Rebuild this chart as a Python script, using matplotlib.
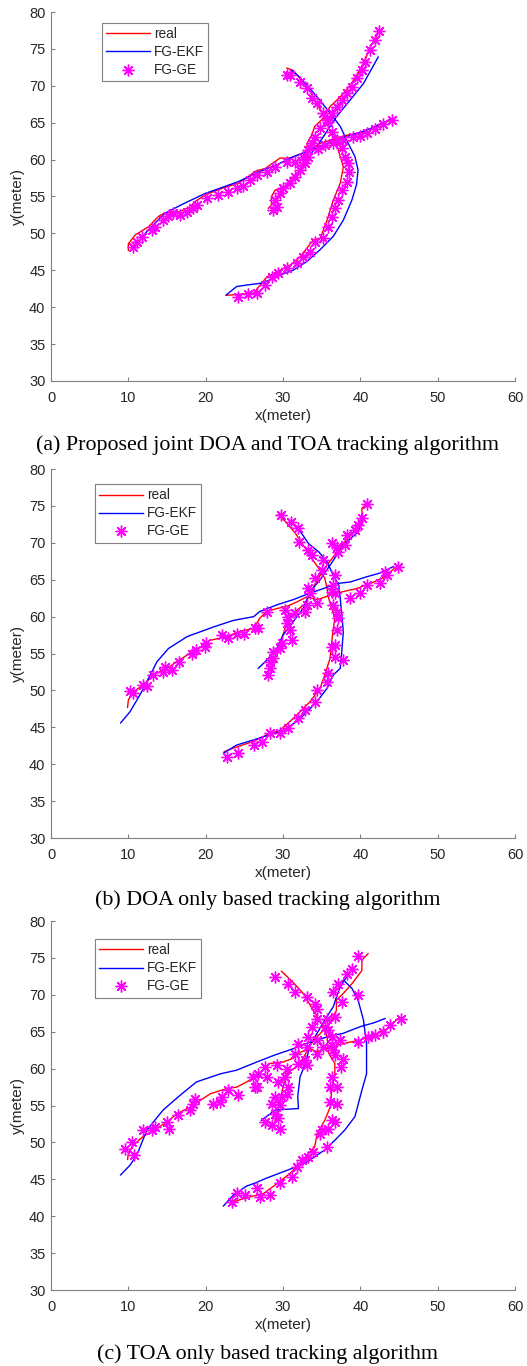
import numpy as np
import matplotlib
matplotlib.use("Agg")
import matplotlib.pyplot as plt

nan = np.nan
plt.rcParams['font.family'] = ['Liberation Sans', 'DejaVu Sans']

# ---------------- (a) joint DOA + TOA ----------------
a_real_x = [10.0, 10.0, 10.9, 12.6, 13.9, 14.7, 16.5, 18.0, 18.6, 19.9, 22.1, 24.2, 25.5, 26.4, 27.7, 29.6, 30.9, 33.1, 34.8, 36.9, 38.2, 40.0, 41.3, 43.0, 44.1, nan,
            22.6, 26.2, 27.9, 29.2, 30.9, 32.2, 33.9, 34.8, 35.7, 36.5, 37.4, 37.8, 37.4, 36.9, 36.1, 35.4, 34.6, 33.5, 32.2, 31.3, 30.5, nan,
            28.1, 28.5, 28.5, 29.0, 30.0, 30.9, 32.0, 32.6, 33.1, 33.1, 33.7, 34.1, 35.0, 36.1, 37.4, 38.7, 39.7, 40.6, 41.3, 42.1, 42.5]
a_real_y = [47.7, 48.6, 49.8, 50.9, 52.3, 52.8, 52.9, 53.6, 54.3, 55.2, 56.1, 56.8, 57.7, 58.4, 58.8, 60.2, 60.2, 61.1, 62.2, 62.9, 63.3, 63.6, 64.2, 64.9, 65.4, nan,
            41.6, 41.9, 44.1, 44.8, 45.7, 46.8, 49.1, 49.3, 51.8, 54.5, 56.8, 59.0, 60.4, 62.2, 63.8, 65.8, 67.2, 69.2, 71.0, 72.1, 72.4, nan,
            53.4, 53.8, 55.0, 55.9, 56.1, 57.2, 58.4, 59.5, 60.9, 62.2, 63.3, 64.5, 65.4, 67.2, 68.5, 70.1, 71.7, 73.5, 75.3, 76.7, 77.6]
a_ekf_x = [10.5, 12.6, 14.7, 16.9, 19.9, 24.2, 26.8, 29.2, 30.9, 33.1, 35.7, 38.2, 39.7, 41.3, 43.8, nan,
           22.7, 24.0, 25.3, 27.5, 29.2, 31.3, 33.1, 34.8, 36.5, 37.8, 38.9, 39.5, 39.7, 39.3, 38.2, 37.4, 36.1, 34.4, 33.1, 31.8, 31.1, nan,
           33.6, 34.4, 36.9, 38.7, 40.4, 42.3]
a_ekf_y = [47.9, 50.5, 52.7, 53.9, 55.4, 57.0, 58.3, 59.3, 60.2, 61.1, 62.2, 63.1, 63.6, 64.2, 65.4, nan,
           41.7, 42.8, 43.0, 43.3, 44.2, 45.0, 46.2, 47.8, 49.6, 51.8, 54.5, 56.6, 58.6, 60.4, 62.7, 64.5, 66.3, 68.5, 70.1, 71.5, 72.1, nan,
           60.8, 61.8, 65.8, 68.1, 70.3, 73.9]
a_ge_x = [10.65, 11.08, 11.72, 13.02, 13.45, 14.52, 15.17, 15.82, 16.68, 17.55, 18.4, 18.84, 20.13, 21.64, 22.93, 24.01, 24.87, 25.73, 26.6, 27.89,
          28.97, 30.48, 31.55, 32.63, 34.57, 35.43, 36.5, 37.8, 39.09, 39.96, 40.82, 41.9, 42.97, 44.06,
          24.23, 25.52, 26.6, 27.67, 28.54, 29.4, 30.48, 31.77, 32.63, 33.49, 34.14, 35.21, 35.86, 36.3, 36.73, 37.16, 37.59, 38.24, 38.58, 38.45,
          38.02, 37.59, 36.95, 36.3, 35.86, 35.21, 34.36, 33.71, 33.07, 32.2, 30.9, 30.48,
          28.75, 29.19, 28.97, 29.61, 30.04, 30.91, 31.55, 32.2, 32.85, 33.27, 33.27, 33.71, 34.14, 34.79, 35.65, 36.3, 36.95, 37.59, 38.24, 38.88,
          39.53, 40.18, 40.6, 41.25, 41.9, 42.46]
a_ge_y = [48.2, 48.9, 49.55, 50.46, 50.9, 51.8, 52.36, 52.72, 52.5, 52.95, 53.4, 53.85, 54.75, 55.2, 55.65, 56.1, 56.4, 57.2, 57.9, 58.36,
          59.0, 59.7, 59.7, 60.4, 61.4, 62.0, 62.2, 62.65, 63.0, 63.2, 63.65, 64.2, 64.8, 65.3,
          41.42, 41.79, 41.88, 43.0, 44.13, 44.59, 45.27, 45.95, 46.84, 47.52, 48.88, 49.34, 50.92, 52.27, 53.4, 54.53, 55.88, 57.0, 58.36, 59.5,
          60.4, 61.53, 62.65, 63.78, 65.14, 66.27, 67.63, 68.31, 69.66, 70.56, 71.46, 71.46,
          53.17, 53.62, 54.53, 55.43, 56.1, 56.79, 57.68, 58.59, 59.5, 60.4, 61.3, 62.2, 63.1, 64.24, 65.37, 66.27, 67.17, 68.08, 68.98, 69.88,
          71.0, 72.14, 73.27, 74.85, 76.2, 77.43]

# ---------------- (b) DOA only ----------------
b_real_x = [9.9, 10.0, 10.6, 11.9, 13.2, 15.0, 16.3, 17.6, 19.3, 20.6, 22.7, 24.4, 26.2, 27.0, 27.9, 29.2, 30.5, 31.8, 33.1, 34.4, 36.1, 37.8, 39.5, 41.3, 42.8, 44.5, nan,
            22.4, 23.6, 26.2, 27.9, 29.6, 30.9, 32.2, 33.5, 34.8, 35.4, 36.1, 36.3, 36.5, 36.7, 36.3, 35.9, 35.7, 35.4, 34.8, 33.7, 32.6, 31.6, 30.3, 29.4, nan,
            28.5, 28.8, 29.6, 30.0, 30.5, 31.6, 32.9, 33.7, 34.8, 35.7, 37.0, 38.0, 39.3, 40.2, 40.2, 40.8]
b_real_y = [47.7, 48.7, 49.8, 50.7, 52.1, 53.0, 53.9, 54.8, 55.9, 56.8, 57.3, 58.0, 58.4, 59.8, 60.7, 61.1, 61.4, 62.0, 62.7, 62.3, 62.9, 63.4, 63.8, 64.5, 65.2, 66.6, nan,
            41.7, 42.2, 43.1, 44.0, 44.6, 45.8, 47.1, 48.5, 50.3, 52.1, 54.4, 56.6, 58.4, 59.8, 61.1, 62.5, 63.8, 65.2, 66.3, 67.9, 69.7, 71.3, 72.9, 73.8, nan,
            53.5, 53.9, 55.7, 57.5, 59.3, 60.7, 61.8, 63.6, 65.6, 67.0, 68.8, 70.2, 71.7, 73.5, 74.7, 75.2]
b_ekf_x = [9.0, 10.2, 11.5, 12.4, 13.7, 15.2, 17.6, 21.0, 23.6, 26.2, 27.0, 29.2, 31.3, 33.5, 35.2, 37.0, 38.7, 40.8, 42.5, 44.3, nan,
           22.3, 24.0, 26.2, 28.3, 30.0, 31.8, 33.1, 34.4, 35.7, 36.5, 37.4, 37.6, 37.8, 37.6, 37.4, 37.2, 36.5, 35.7, 34.6, 33.3, 32.4, 31.3, nan,
           26.8, 27.9, 29.2, 30.0, 31.3, 32.6, 33.5, 34.8, 36.1, 37.8, 39.7, 40.3]
b_ekf_y = [45.6, 47.1, 49.4, 51.2, 53.9, 55.7, 57.3, 58.6, 59.5, 60.0, 60.7, 61.6, 62.3, 63.2, 63.8, 64.5, 64.7, 65.4, 65.9, 66.8, nan,
           41.5, 42.6, 43.3, 44.0, 44.6, 45.8, 47.1, 48.5, 50.3, 52.1, 53.0, 55.3, 58.0, 60.2, 62.5, 64.3, 65.6, 67.4, 68.8, 69.9, 71.3, 72.6, nan,
           53.0, 54.1, 55.7, 57.5, 59.3, 61.1, 63.4, 65.0, 67.0, 69.7, 71.5, 72.9]
b_ge_x = [10.2, 10.6, 11.9, 12.4, 13.2, 14.5, 14.7, 15.6, 16.5, 18.2, 18.8, 19.9, 20.1, 22.1, 22.9, 24.0, 24.9, 26.4, 22.7, 24.2, 26.2,
          29.74, 31.04, 31.98, 32.11, 33.27, 33.79, 35.21, 35.0, 34.14, 33.27, 33.49, 34.36, 33.06, 32.85, 31.55, 30.26, 30.69, 30.48, 30.91, 31.12,
          29.83, 29.61, 28.75, 28.75, 28.32, 28.32, 28.1, 27.89, 26.81, 36.3, 36.94, 37.16, 38.02, 38.24, 39.31, 39.74, 40.17, 40.82, 36.73, 36.51,
          36.3, 36.73, 36.51, 36.94, 37.16, 36.94, 36.73, 36.3, 36.73, 37.8, 35.86, 35.65, 34.36, 34.14, 32.85, 31.98, 30.69, 29.61, 28.32, 27.24,
          38.67, 39.96, 40.82, 42.54, 43.19, 43.41, 44.91]
b_ge_y = [49.9, 49.7, 50.7, 50.6, 52.1, 52.5, 53.2, 52.8, 53.9, 55.0, 55.5, 55.9, 56.4, 57.5, 57.1, 57.7, 57.6, 58.4, 41.0, 41.5, 42.6,
          73.77, 72.86, 71.96, 70.15, 69.02, 68.35, 67.67, 66.31, 65.19, 63.83, 63.15, 61.8, 61.57, 60.66, 60.44, 60.9, 59.99, 59.09, 58.18, 56.83,
          56.38, 55.7, 55.25, 54.35, 53.89, 52.99, 52.09, 60.66, 58.41, 69.93, 69.47, 68.8, 69.7, 71.06, 71.73, 72.41, 73.32, 75.21, 65.64, 64.28,
          63.38, 63.15, 61.57, 60.66, 59.77, 58.18, 56.15, 55.92, 54.57, 54.12, 52.31, 51.18, 50.05, 48.47, 47.34, 46.22, 44.86, 44.19, 44.19, 43.05,
          62.48, 63.15, 64.28, 64.51, 66.09, 65.64, 66.77]

# ---------------- (c) TOA only ----------------
c_real_x = [9.9, 10.0, 10.6, 11.9, 13.7, 15.0, 16.3, 18.0, 19.3, 20.6, 22.7, 24.0, 25.3, 26.6, 28.3, 30.0, 31.3, 32.4, 33.5, 34.4, 36.1, 37.8, 40.0, 41.7, 43.4, 44.9, nan,
            23.2, 24.9, 27.5, 29.2, 30.9, 32.2, 34.1, 34.4, 35.4, 36.1, 36.3, 36.7, 36.7, 35.9, 35.7, 35.0, 33.9, 32.6, 31.3, 29.8, nan,
            29.0, 29.2, 29.6, 30.0, 30.5, 31.6, 32.6, 33.5, 34.4, 35.2, 36.1, 36.9, 36.9, 37.8, 38.9, 40.2, 40.2, 41.0]
c_real_y = [47.7, 48.6, 49.6, 50.8, 51.9, 52.8, 53.9, 54.8, 55.7, 56.6, 57.3, 57.5, 58.2, 59.1, 60.7, 60.9, 61.4, 62.3, 62.7, 62.3, 62.9, 63.4, 63.9, 64.5, 65.4, 66.8, nan,
            41.8, 42.4, 43.1, 44.4, 45.8, 47.2, 49.4, 51.2, 53.0, 54.8, 57.1, 59.3, 60.7, 62.1, 64.3, 66.1, 67.9, 70.2, 71.7, 73.2, nan,
            53.0, 53.9, 55.7, 57.5, 59.3, 60.2, 61.4, 63.2, 64.3, 65.2, 66.3, 67.9, 69.3, 70.2, 71.5, 73.3, 74.7, 75.6]
c_ekf_x = [9.0, 10.2, 11.1, 12.4, 14.5, 16.7, 18.8, 21.9, 24.0, 26.6, 28.8, 31.3, 33.5, 35.7, 37.8, 40.0, 41.7, 43.2, nan,
           22.3, 23.6, 25.3, 26.4, 27.7, 30.7, 32.9, 35.4, 36.7, 38.0, 39.3, 40.2, 40.8, 40.8, 40.4, 39.7, 38.9, 37.8, nan,
           27.2, 29.0, 32.0, 31.9, 32.2, 32.9, 33.5, 34.4, 35.4, 36.5, 36.9, 37.4, 38.2]
c_ekf_y = [45.6, 46.9, 48.3, 51.7, 54.4, 56.4, 58.2, 59.3, 59.8, 60.9, 61.8, 62.7, 63.6, 64.3, 64.8, 65.7, 66.2, 66.8, nan,
           41.4, 42.9, 44.1, 44.5, 45.1, 46.3, 47.2, 49.0, 50.3, 51.7, 53.5, 57.1, 59.3, 63.4, 66.6, 69.3, 70.9, 72.0, nan,
           53.0, 54.4, 54.6, 56.2, 58.9, 60.7, 63.2, 64.8, 66.6, 68.4, 69.7, 71.1, 72.4]
c_ge_x = [9.57, 10.43, 10.73, 11.94, 13.02, 13.45, 14.96, 15.3, 16.46, 17.97, 18.62, 18.4, 20.99, 21.85, 22.07, 22.93, 24.22, 26.16, 26.38, 26.81,
          23.37, 24.01, 25.09, 26.6,
          28.97, 30.69, 31.55, 33.06, 34.14, 34.36, 34.36, 35.65, 36.73, 35.43, 35.86, 33.71, 33.27, 31.98, 33.06, 34.36, 35.21, 36.3, 36.3, 37.37,
          36.73, 36.51, 37.8, 37.5, 36.3, 36.08, 36.94, 36.08, 36.94, 36.3, 36.73, 35.86, 35.0, 34.79, 35.65, 33.92, 33.27, 32.42, 31.77, 31.12,
          29.61, 27.03, 28.32, 26.6, 27.89, 27.67, 29.18, 29.4, 30.48, 30.26, 30.69, 30.48, 29.83, 28.97, 28.54, 29.61, 28.97, 29.4, 27.67, 28.54,
          29.61, 31.98, 33.06, 31.55, 32.85, 36.51, 37.16, 37.67, 38.24, 38.88, 39.66, 39.74, 39.74, 41.03, 41.9, 42.97, 43.84, 45.26, 34.36]
c_ge_y = [49.18, 50.08, 48.28, 51.66, 51.66, 52.11, 52.79, 51.89, 53.69, 54.37, 55.95, 55.27, 55.27, 55.5, 56.17, 57.08, 56.5, 58.88, 57.53, 59.34,
          41.97, 43.09, 42.86, 43.77,
          72.42, 71.52, 70.39, 69.71, 68.81, 68.14, 66.79, 66.79, 67.0, 65.65, 65.2, 65.65, 64.29, 63.4, 62.94, 62.05, 62.94, 63.17, 64.29, 63.85,
          61.82, 62.5, 61.37, 60.23, 58.88, 57.53, 57.53, 55.5, 55.28, 53.02, 52.79, 51.89, 51.66, 51.21, 49.4, 48.72, 48.05, 47.6, 46.69, 45.34,
          44.45, 42.63, 42.86, 57.53, 58.88, 60.23, 60.46, 58.2, 60.02, 58.88, 57.53, 56.63, 56.17, 56.17, 55.28, 55.05, 53.92, 53.25, 52.79, 52.34,
          51.89, 60.69, 60.46, 62.05, 61.14, 70.39, 71.52, 69.03, 72.88, 73.55, 75.22, 69.94, 63.62, 64.29, 64.52, 64.97, 65.88, 66.79, 63.85]

captions = ["(a) Proposed joint DOA and TOA tracking algorithm",
            "(b) DOA only based tracking algorithm",
            "(c) TOA only based tracking algorithm"]
legend_anchor = [(0.110, 0.970), (0.095, 0.959), (0.095, 0.951)]

fig = plt.figure(figsize=(5.27, 13.66), dpi=100)
bottoms = [0.7211, 0.3865, 0.0556]
cap_y = [0.6742, 0.3411, 0.0085]
panels = [(a_real_x, a_real_y, a_ekf_x, a_ekf_y, a_ge_x, a_ge_y),
          (b_real_x, b_real_y, b_ekf_x, b_ekf_y, b_ge_x, b_ge_y),
          (c_real_x, c_real_y, c_ekf_x, c_ekf_y, c_ge_x, c_ge_y)]

axcol = '#262626'
for i, (rx, ry, ex, ey, gx, gy) in enumerate(panels):
    ax = fig.add_axes([0.0968, bottoms[i], 0.8805, 0.2701])
    ax.plot(rx, ry, color='#ff0000', lw=1.0, label='real')
    ax.plot(ex, ey, color='#0000ff', lw=1.0, label='FG-EKF')
    ax.plot(gx, gy, ls='none', marker=(8, 2, 0), ms=8.5, mew=1.0, color='#ff00ff', label='FG-GE')
    ax.set_xlim(0, 60)
    ax.set_ylim(30, 80)
    ax.set_xticks(np.arange(0, 61, 10))
    ax.set_yticks(np.arange(30, 81, 5))
    ax.spines['top'].set_visible(False)
    ax.spines['right'].set_visible(False)
    for s in ['left', 'bottom']:
        ax.spines[s].set_color('#808080')
        ax.spines[s].set_linewidth(0.8)
    ax.tick_params(direction='in', length=3, width=0.8, color='#808080', labelsize=10.5,
                   labelcolor=axcol)
    ax.tick_params(axis='x', pad=7)
    ax.tick_params(axis='y', pad=4)
    ax.set_xlabel('x(meter)', fontsize=11, color=axcol, labelpad=3)
    ax.set_ylabel('y(meter)', fontsize=11, color=axcol, labelpad=3)
    leg = ax.legend(loc='upper left', bbox_to_anchor=legend_anchor[i], borderaxespad=0,
                    fontsize=9.8, numpoints=1, handlelength=3.2, handletextpad=0.3,
                    labelspacing=0.3, borderpad=0.3, fancybox=False, framealpha=1,
                    edgecolor='#808080')
    leg.get_frame().set_linewidth(0.8)
    for t in leg.get_texts():
        t.set_color(axcol)
    fig.text(0.508, cap_y[i], captions[i], ha='center', va='center', fontsize=15.8,
             family=['Liberation Serif', 'DejaVu Serif'], color='black')

fig.savefig('out.png', dpi=100)
